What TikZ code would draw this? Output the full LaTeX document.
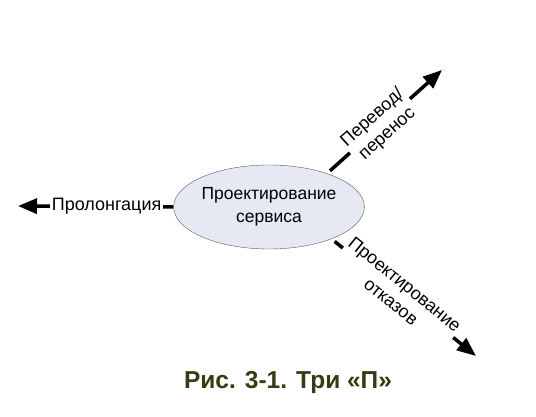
\documentclass[tikz,border=0pt]{standalone}
\usepackage{fontspec}
\setmainfont{Liberation Sans}
\usepackage{xcolor}
\usepackage{tikz}
\usetikzlibrary{shapes.geometric}
\usetikzlibrary{arrows.meta}
\definecolor{ovalfill}{HTML}{E6E8F3}
\definecolor{captcol}{HTML}{3A3A12}

\begin{document}
\begin{tikzpicture}[x = 1pt, y = -1pt,
        parrow/.style = {line width = 3.5pt, -{Triangle[length = 19pt, width = 15pt]}},
        plabel/.style = {fill = white, inner sep = 1.5pt, align = center,
            font = \fontsize{18}{22}\selectfont}]
        \useasboundingbox (0, 0) rectangle (536, 417);

        \node[ellipse, draw = black!65, fill = ovalfill, minimum width = 168pt,
            minimum height = 84pt, inner sep = 0pt, align = center,
            font = \fontsize{17.5}{23}\selectfont] (svc) at (269, 207)
            {Проектирование\\сервиса};

        \coordinate (prolong) at (18, 206);
        \coordinate (transfer) at (442, 70);
        \coordinate (fail) at (476, 356);

        \draw[parrow] (svc.west) -- node[plabel, pos = 0.43] {Пролонгация} (prolong);
        \draw[parrow, shorten < = 4pt] (svc.30) -- node[plabel, sloped, pos = 0.46]
            {Перевод/\\перенос} (transfer);
        \draw[parrow, shorten < = 4pt] (svc.-27) -- node[plabel, sloped, pos = 0.46]
            {Проектирование\\отказов} (fail);

        \node[font = \fontsize{24.5}{28}\selectfont\bfseries, text = captcol] (caption)
            at (288, 382) {Рис. 3-1. Три «П»};
    \end{tikzpicture}
\end{document}
